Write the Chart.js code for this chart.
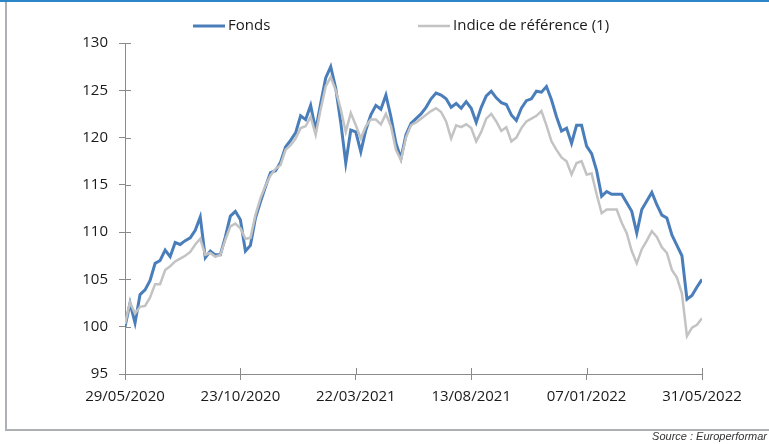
<!DOCTYPE html>
<html>
<head>
<meta charset="utf-8">
<script src="https://cdn.jsdelivr.net/npm/chart.js@4.4.1/dist/chart.umd.min.js"></script>
<style>
  html, body { margin: 0; padding: 0; background: #fff; }
  #wrap { position: relative; width: 769px; height: 444px; overflow: hidden; }
  #topLine { position: absolute; left: 0; top: 0; width: 769px; height: 2px; background: #2a86c6; }
  #leftLine { position: absolute; left: 5px; top: 2px; width: 2px; height: 428px; background: #adb1b5; }
  #bottomLine { position: absolute; left: 5px; top: 429px; width: 764px; height: 2px; background: #adb1b5; }
  #source { position: absolute; right: 2px; top: 430px; font: italic 11px "Liberation Sans", Arial, sans-serif; color: #333; white-space: nowrap; }
  canvas { position: absolute; left: 0; top: 0; }
</style>
</head>
<body>
<div id="wrap">
  <div id="topLine"></div>
  <div id="leftLine"></div>
  <div id="bottomLine"></div>
  <canvas id="perfChart" width="769" height="444"></canvas>
  <div id="source">Source : Europerformar</div>
</div>
<script>
// series labels
const seriesNames = ['Fonds', 'Indice de référence (1)'];

// x axis labels, shown every 23 points
const tickLabels = ['29/05/2020', '23/10/2020', '22/03/2021', '13/08/2021', '07/01/2022', '31/05/2022'];

// values, equally spaced points
const fonds = [
  100.0, 102.5, 100.4, 103.4, 103.9, 104.9, 106.7, 107.0, 108.1, 107.4,
  108.9, 108.7, 109.1, 109.4, 110.2, 111.6, 107.3, 108.0, 107.6, 107.6,
  109.5, 111.7, 112.2, 111.3, 108.0, 108.6, 111.5, 113.2, 114.8, 116.3,
  116.5, 117.4, 119.0, 119.7, 120.5, 122.3, 121.9, 123.4, 120.8, 123.6,
  126.3, 127.5, 125.2, 121.6, 117.3, 120.8, 120.6, 118.5, 120.8, 122.4,
  123.4, 123.0, 124.5, 122.2, 119.4, 117.8, 120.3, 121.5, 122.0, 122.5,
  123.2, 124.1, 124.7, 124.5, 124.1, 123.2, 123.6, 123.1, 123.8, 123.1,
  121.6, 123.2, 124.4, 124.9, 124.2, 123.7, 123.5, 122.4, 121.8, 123.1,
  123.9, 124.1, 124.9, 124.8, 125.4, 124.0, 122.2, 120.7, 121.0, 119.4,
  121.3, 121.3, 119.1, 118.3, 116.5, 113.8, 114.3, 114.0, 114.0, 114.0,
  113.1, 112.2, 109.9, 112.4, 113.3, 114.2, 112.9, 111.8, 111.5, 109.7,
  108.6, 107.5, 102.9, 103.3, 104.2, 105.0
];

const indice = [
  100.3, 102.6, 101.4, 102.1, 102.2, 103.1, 104.5, 104.5, 106.0, 106.4,
  106.9, 107.2, 107.5, 107.9, 108.7, 109.3, 107.6, 107.8, 107.4, 107.6,
  109.2, 110.6, 110.9, 110.4, 109.3, 109.4, 111.8, 113.6, 114.9, 116.0,
  116.7, 117.1, 118.7, 119.2, 119.9, 121.0, 121.2, 122.2, 120.3, 123.0,
  125.4, 126.4, 125.0, 123.0, 120.6, 122.6, 121.3, 119.9, 121.2, 121.9,
  121.9, 121.4, 122.5, 121.2, 118.7, 117.6, 120.0, 121.3, 121.6, 122.0,
  122.4, 122.8, 123.1, 122.7, 121.7, 119.9, 121.3, 121.1, 121.4, 121.0,
  119.6, 120.6, 122.0, 122.5, 121.7, 120.7, 121.1, 119.6, 120.0, 121.0,
  121.7, 122.0, 122.3, 122.8, 121.3, 119.6, 118.7, 117.9, 117.5, 116.1,
  117.3, 117.5, 116.1, 116.2, 114.0, 112.0, 112.4, 112.4, 112.4, 111.0,
  109.9, 108.0, 106.7, 108.2, 109.1, 110.1, 109.5, 108.4, 107.8, 106.0,
  105.2, 103.5, 99.0, 99.9, 100.2, 100.9
];

const labelStep = 23;
const axisColor = '#8a8a8a';
const textColor = '#1a1a1a';
const fontFamily = '"Open Sans", "Liberation Sans", sans-serif';

// excel style legend: short line + text, spread over the top
const legendLines = {
  id: 'legendLines',
  afterDraw(chart) {
    const ctx = chart.ctx;
    const starts = [193, 418];
    chart.data.datasets.forEach((ds, i) => {
      const x = starts[i];
      const y = 26;
      ctx.save();
      ctx.strokeStyle = ds.borderColor;
      ctx.lineWidth = ds.borderWidth;
      ctx.beginPath();
      ctx.moveTo(x, y);
      ctx.lineTo(x + 32, y);
      ctx.stroke();
      ctx.fillStyle = textColor;
      ctx.font = '15px ' + fontFamily;
      ctx.textBaseline = 'middle';
      ctx.fillText(ds.label, x + 35, y);
      ctx.restore();
    });
  }
};

// tick marks cross the axis line, draw the inner half
const crossTicks = {
  id: 'crossTicks',
  beforeDatasetsDraw(chart) {
    const { ctx, scales: { x, y } } = chart;
    ctx.save();
    ctx.strokeStyle = axisColor;
    ctx.lineWidth = 1;
    ctx.beginPath();
    x.ticks.forEach(t => {
      const px = Math.round(x.getPixelForValue(t.value)) + 0.5;
      ctx.moveTo(px, x.top);
      ctx.lineTo(px, x.top - 6);
    });
    y.ticks.forEach(t => {
      const py = Math.round(y.getPixelForValue(t.value)) + 0.5;
      ctx.moveTo(y.right, py);
      ctx.lineTo(y.right + 6, py);
    });
    ctx.stroke();
    ctx.restore();
  }
};

const ctx = document.getElementById('perfChart');
new Chart(ctx, {
  type: 'line',
  data: {
    labels: fonds.map((_, i) => i),
    datasets: [
      {
        label: seriesNames[0],
        data: fonds,
        borderColor: '#4a7ebb',
        borderWidth: 3,
        pointRadius: 0,
        tension: 0,
        order: 1
      },
      {
        label: seriesNames[1],
        data: indice,
        borderColor: '#c3c3c3',
        borderWidth: 2.5,
        pointRadius: 0,
        tension: 0,
        order: 0
      }
    ]
  },
  options: {
    responsive: false,
    animation: false,
    layout: { padding: { top: 43, right: 67, bottom: 40, left: 0 } },
    plugins: {
      legend: { display: false },
      tooltip: { enabled: false }
    },
    scales: {
      x: {
        type: 'linear',
        min: 0,
        max: fonds.length - 1,
        afterFit: (scale) => { scale.height = 30; },
        border: { color: axisColor, width: 1 },
        grid: { drawOnChartArea: false, tickLength: 6, color: axisColor },
        ticks: {
          stepSize: labelStep,
          autoSkip: false,
          maxRotation: 0,
          padding: 8,
          color: textColor,
          font: { family: fontFamily, size: 15 },
          callback: (v) => tickLabels[Math.round(v / labelStep)]
        }
      },
      y: {
        min: 95,
        max: 130,
        afterFit: (scale) => { scale.width = 125; },
        border: { color: axisColor, width: 1 },
        grid: { drawOnChartArea: false, tickLength: 6, color: axisColor },
        ticks: {
          stepSize: 5,
          padding: 11,
          color: textColor,
          font: { family: fontFamily, size: 15 }
        }
      }
    }
  },
  plugins: [legendLines, crossTicks]
});
</script>
</body>
</html>
